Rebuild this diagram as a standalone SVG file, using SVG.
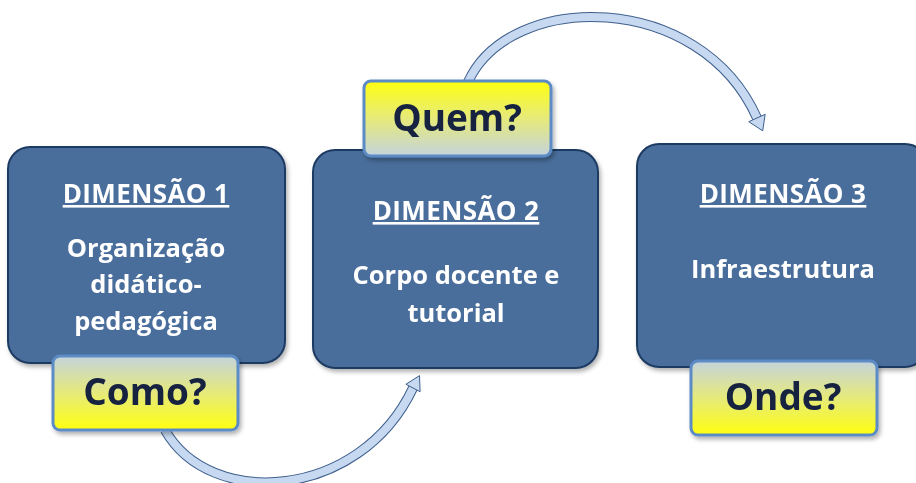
<svg xmlns="http://www.w3.org/2000/svg" width="916" height="483" viewBox="0 0 916 483">
<defs>
<linearGradient id="gUp" x1="0" y1="0" x2="0" y2="1">
<stop offset="0" stop-color="#c4d3dc"/><stop offset="0.5" stop-color="#e6ea7a"/><stop offset="1" stop-color="#ffff10"/>
</linearGradient>
<linearGradient id="gDown" x1="0" y1="0" x2="0" y2="1">
<stop offset="0" stop-color="#ffff10"/><stop offset="0.5" stop-color="#e6ea7a"/><stop offset="1" stop-color="#c4d3dc"/>
</linearGradient>
<filter id="sh" x="-10%" y="-10%" width="130%" height="130%">
<feDropShadow dx="2" dy="3" stdDeviation="2" flood-color="#000" flood-opacity="0.3"/>
</filter>
</defs>
<style>
.box{fill:#4a6e9b;stroke:#1e3b63;stroke-width:2}
.tag{stroke:#5b8bc6;stroke-width:3}
.head{font-family:"Open Sans","Liberation Sans",sans-serif;font-weight:bold;font-size:26px;letter-spacing:0.4px;fill:#fff;text-anchor:middle;text-decoration:underline}
.body{font-family:"Open Sans","Liberation Sans",sans-serif;font-weight:bold;font-size:25.5px;fill:#fff;text-anchor:middle}
.q{font-family:"Open Sans","Liberation Sans",sans-serif;font-weight:bold;font-size:37px;fill:#13213f;text-anchor:middle}
.band-o{fill:none;stroke:#3f5f8c;stroke-width:10}
.band-i{fill:none;stroke:#c6d9f1;stroke-width:8}
.ah{fill:#c6d9f1;stroke:#3f5f8c;stroke-width:1}
</style>
<g id="connectors">
<path class="band-o" d="M468,82 C510,-10 700,-10 757,118"/>
<path class="band-i" d="M468,82 C510,-10 700,-10 757,118"/>
<polygon class="ah" points="748.8,121.7 765.2,114.3 762.7,130.8"/>
<path class="band-o" d="M165,430 C210,510 360,500 413,388"/>
<path class="band-i" d="M165,430 C210,510 360,500 413,388"/>
<polygon class="ah" points="405.9,384.3 420.1,391.7 419.5,375.6"/>
</g>
<g id="dim1" filter="url(#sh)">
<rect class="box" x="8" y="147" width="277" height="216" rx="22"/>
<text class="head" x="146" y="203">DIMENSÃO 1</text>
<text class="body" x="146" y="257">Organização</text>
<text class="body" x="146" y="293">didático-</text>
<text class="body" x="146" y="330">pedagógica</text>
</g>
<g id="dim2" filter="url(#sh)">
<rect class="box" x="313" y="150" width="285" height="218" rx="22"/>
<text class="head" x="456" y="220">DIMENSÃO 2</text>
<text class="body" x="456" y="284">Corpo docente e</text>
<text class="body" x="456" y="322">tutorial</text>
</g>
<g id="dim3" filter="url(#sh)">
<rect class="box" x="637" y="144" width="290" height="223" rx="22"/>
<text class="head" x="783" y="203">DIMENSÃO 3</text>
<text class="body" x="783" y="278">Infraestrutura</text>
</g>
<g id="como" filter="url(#sh)">
<rect class="tag" x="53" y="356" width="185" height="74" rx="7" fill="url(#gUp)"/>
<text class="q" x="145" y="405">Como?</text>
</g>
<g id="quem" filter="url(#sh)">
<rect class="tag" x="364" y="81" width="187" height="75" rx="7" fill="url(#gDown)"/>
<text class="q" x="457" y="131">Quem?</text>
</g>
<g id="onde" filter="url(#sh)">
<rect class="tag" x="691" y="361" width="186" height="74" rx="7" fill="url(#gUp)"/>
<text class="q" x="783" y="410">Onde?</text>
</g>
</svg>
